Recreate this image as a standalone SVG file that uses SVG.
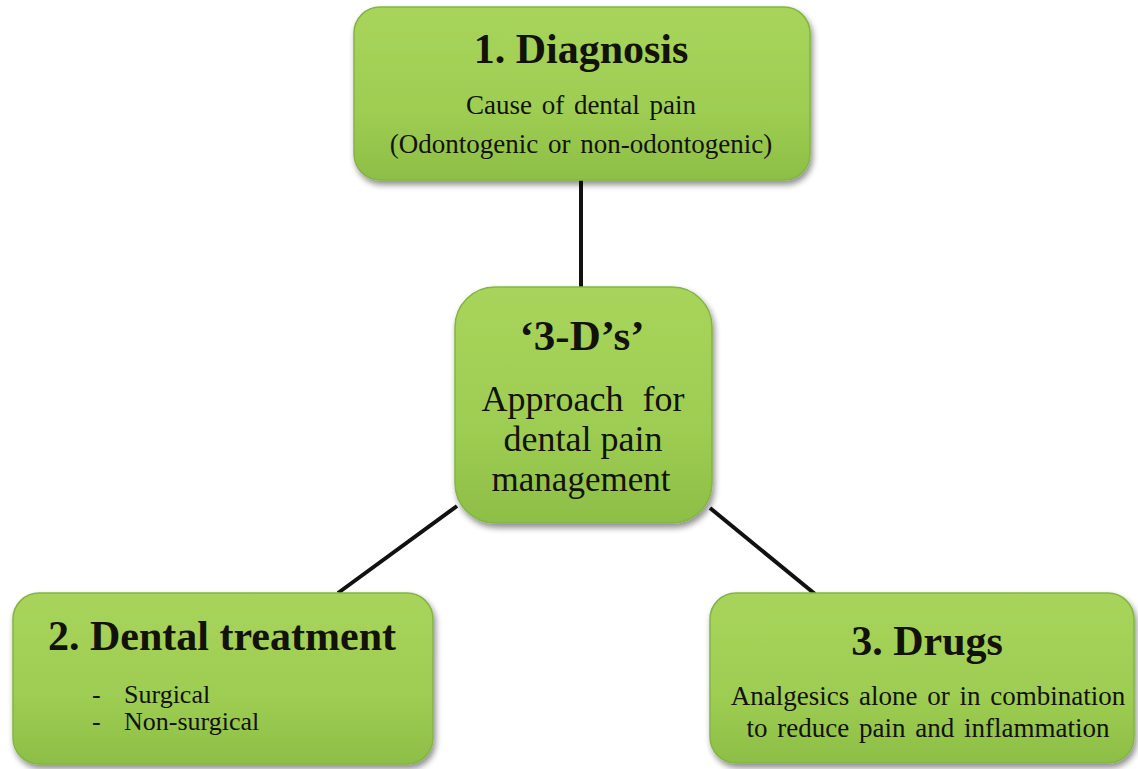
<svg xmlns="http://www.w3.org/2000/svg" width="1138" height="769" viewBox="0 0 1138 769">
<defs>
<linearGradient id="g" x1="0" y1="0" x2="0" y2="1">
<stop offset="0" stop-color="#a8d45b"/>
<stop offset="0.6" stop-color="#9ecd52"/>
<stop offset="1" stop-color="#8dbe46"/>
</linearGradient>
<filter id="sh" x="-10%" y="-10%" width="125%" height="130%">
<feGaussianBlur in="SourceAlpha" stdDeviation="3"/>
<feOffset dx="2" dy="4"/>
<feComponentTransfer><feFuncA type="linear" slope="0.45"/></feComponentTransfer>
<feMerge><feMergeNode/><feMergeNode in="SourceGraphic"/></feMerge>
</filter>
</defs>
<style>
.box{fill:url(#g);stroke:#84b445;stroke-width:1.5;filter:url(#sh)}
.t{font-family:"Liberation Serif","Times New Roman",serif;fill:#121208;text-anchor:middle}
.b{font-weight:bold}
.l{font-family:"Liberation Serif","Times New Roman",serif;fill:#121208}
.c{stroke:#111;stroke-width:4;fill:none}
</style>
<rect width="1138" height="769" fill="#fff"/>
<g id="connectors">
<line class="c" x1="581" y1="180" x2="581" y2="288"/>
<line class="c" x1="457" y1="506" x2="338" y2="593"/>
<line class="c" x1="710" y1="508" x2="815" y2="594"/>
</g>
<g id="diagnosis">
<rect class="box" x="354" y="7" width="456" height="173" rx="26"/>
<text class="t b" x="581" y="63" font-size="42">1. Diagnosis</text>
<text class="t" x="581" y="114" font-size="27" word-spacing="3">Cause of dental pain</text>
<text class="t" x="581" y="153" font-size="27" word-spacing="3">(Odontogenic  or non-odontogenic)</text>
</g>
<g id="center">
<rect class="box" x="455" y="287" width="257" height="236" rx="40"/>
<text class="t b" x="582" y="350" font-size="43">‘3-D’s’</text>
<text class="t" x="583" y="411" font-size="36" word-spacing="10">Approach for</text>
<text class="t" x="583" y="451" font-size="36">dental pain</text>
<text class="t" x="581" y="491" font-size="35">management</text>
</g>
<g id="dental-treatment">
<rect class="box" x="13" y="593" width="420" height="171" rx="26"/>
<text class="t b" x="222" y="650" font-size="42">2. Dental treatment</text>
<text class="l" x="92" y="703" font-size="26">-</text>
<text class="l" x="124" y="703" font-size="26">Surgical</text>
<text class="l" x="92" y="730" font-size="26">-</text>
<text class="l" x="124" y="730" font-size="26">Non-surgical</text>
</g>
<g id="drugs">
<rect class="box" x="710" y="593" width="424" height="170" rx="26"/>
<text class="t b" x="927" y="655" font-size="42">3. Drugs</text>
<text class="t" x="928" y="705" font-size="27" word-spacing="3">Analgesics  alone  or in  combination</text>
<text class="t" x="928" y="737" font-size="27" word-spacing="3">to reduce pain  and inflammation</text>
</g>
</svg>
